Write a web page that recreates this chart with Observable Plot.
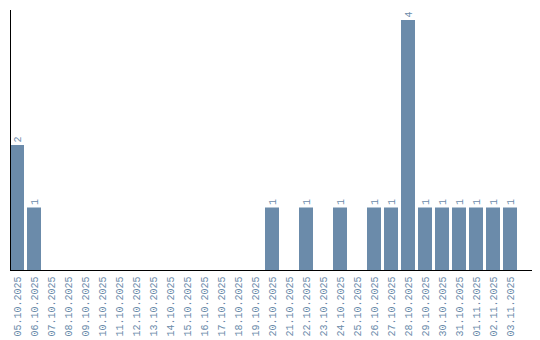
<!DOCTYPE html>
<html>
<head>
<meta charset="utf-8">
<script src="https://cdn.jsdelivr.net/npm/d3@7"></script>
<script src="https://cdn.jsdelivr.net/npm/@observablehq/plot@0.6"></script>
<style>
  html, body { margin: 0; padding: 0; background: #fff; }
</style>
</head>
<body>
<div id="chart"></div>
<script>
const dates = ["05.10.2025","06.10.2025","07.10.2025","08.10.2025","09.10.2025","10.10.2025","11.10.2025","12.10.2025","13.10.2025","14.10.2025","15.10.2025","16.10.2025","17.10.2025","18.10.2025","19.10.2025","20.10.2025","21.10.2025","22.10.2025","23.10.2025","24.10.2025","25.10.2025","26.10.2025","27.10.2025","28.10.2025","29.10.2025","30.10.2025","31.10.2025","01.11.2025","02.11.2025","03.11.2025"];
const counts = [2,1,0,0,0,0,0,0,0,0,0,0,0,0,0,1,0,1,0,1,0,1,1,4,1,1,1,1,1,1];

const data = dates.map((d, i) => ({date: d, count: counts[i]}));
const nonzero = data.filter(d => d.count > 0);
const color = "#6b8baa";
const font = "'Liberation Mono', monospace";

const chart = Plot.plot({
  width: 540,
  height: 340,
  marginLeft: 10,
  marginRight: 9,
  marginTop: 10,
  marginBottom: 70,
  style: {fontFamily: font, fontSize: "10px", background: "#fff"},
  x: {domain: dates, range: [10, 520], paddingInner: 0.18, paddingOuter: 0, align: 0, label: null},
  y: {domain: [0, 4.16], axis: null},
  marks: [
    Plot.barY(data, {x: "date", y: "count", fill: color}),
    Plot.text(nonzero, {x: "date", y: "count", text: d => String(d.count), rotate: -90, textAnchor: "start", dy: -3, fill: color, fontSize: 10}),
    Plot.axisX({tickRotate: -90, tickSize: 0, tickPadding: 6, fill: color, fontSize: 10, label: null}),
    Plot.frame({anchor: "left", stroke: "#000"}),
    Plot.frame({anchor: "bottom", stroke: "#000"})
  ]
});
document.getElementById("chart").appendChild(chart);
</script>
</body>
</html>
